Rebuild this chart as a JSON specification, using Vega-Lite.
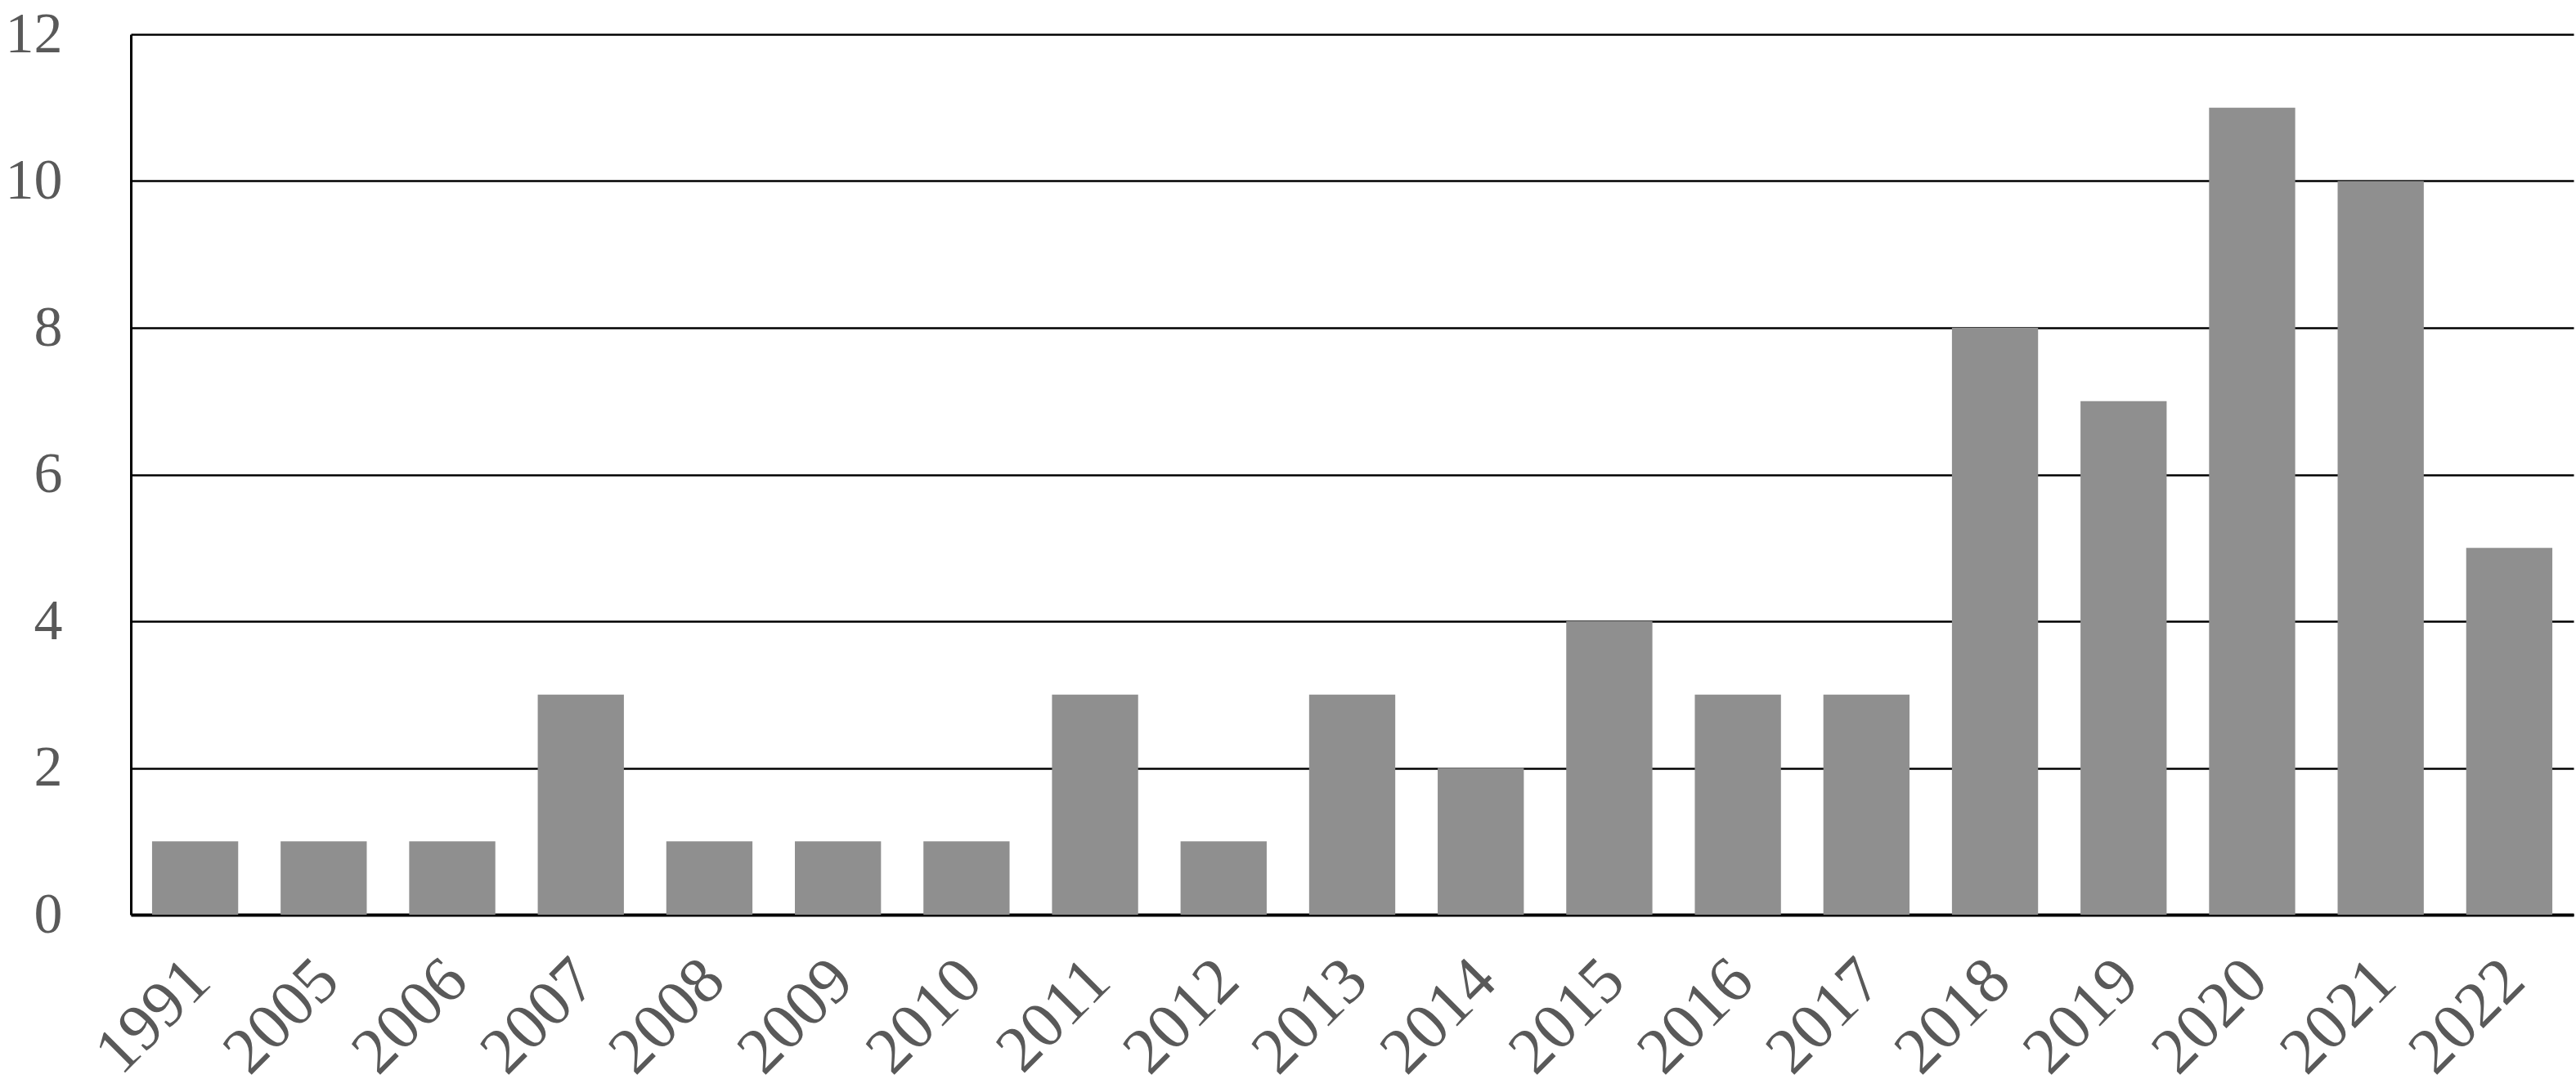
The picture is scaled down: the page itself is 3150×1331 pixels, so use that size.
{
  "$schema": "https://vega.github.io/schema/vega-lite/v6.json",
  "autosize": "none",
  "padding": {"left": 160, "top": 42, "right": 3, "bottom": 212},
  "width": 2987,
  "height": 1077,
  "background": "white",
  "data": {"values": [
    {"year": "1991", "count": 1},
    {"year": "2005", "count": 1},
    {"year": "2006", "count": 1},
    {"year": "2007", "count": 3},
    {"year": "2008", "count": 1},
    {"year": "2009", "count": 1},
    {"year": "2010", "count": 1},
    {"year": "2011", "count": 3},
    {"year": "2012", "count": 1},
    {"year": "2013", "count": 3},
    {"year": "2014", "count": 2},
    {"year": "2015", "count": 4},
    {"year": "2016", "count": 3},
    {"year": "2017", "count": 3},
    {"year": "2018", "count": 8},
    {"year": "2019", "count": 7},
    {"year": "2020", "count": 11},
    {"year": "2021", "count": 10},
    {"year": "2022", "count": 5}
  ]},
  "config": {"view": {"stroke": null}},
  "mark": {"type": "bar", "color": "#8f8f8f"},
  "encoding": {
    "x": {
      "field": "year", "type": "ordinal", "sort": null,
      "scale": {"paddingInner": 0.33, "paddingOuter": 0.165},
      "axis": {
        "title": null, "labelAngle": -45, "labelAlign": "right", "labelBaseline": "top",
        "labelFont": "Liberation Serif", "labelFontSize": 80, "labelColor": "#595959",
        "labelPadding": 40, "labelOffset": -22, "ticks": false,
        "domainColor": "black", "domainWidth": 4, "grid": false
      }
    },
    "y": {
      "field": "count", "type": "quantitative",
      "scale": {"domain": [0, 12], "nice": false},
      "axis": {
        "title": null, "values": [0, 2, 4, 6, 8, 10, 12],
        "labelFont": "Liberation Serif", "labelFontSize": 70, "labelColor": "#595959",
        "labelPadding": 84, "ticks": false,
        "domainColor": "black", "domainWidth": 3,
        "grid": true, "gridColor": "black", "gridWidth": 2.5, "gridOpacity": 1
      }
    }
  }
}
